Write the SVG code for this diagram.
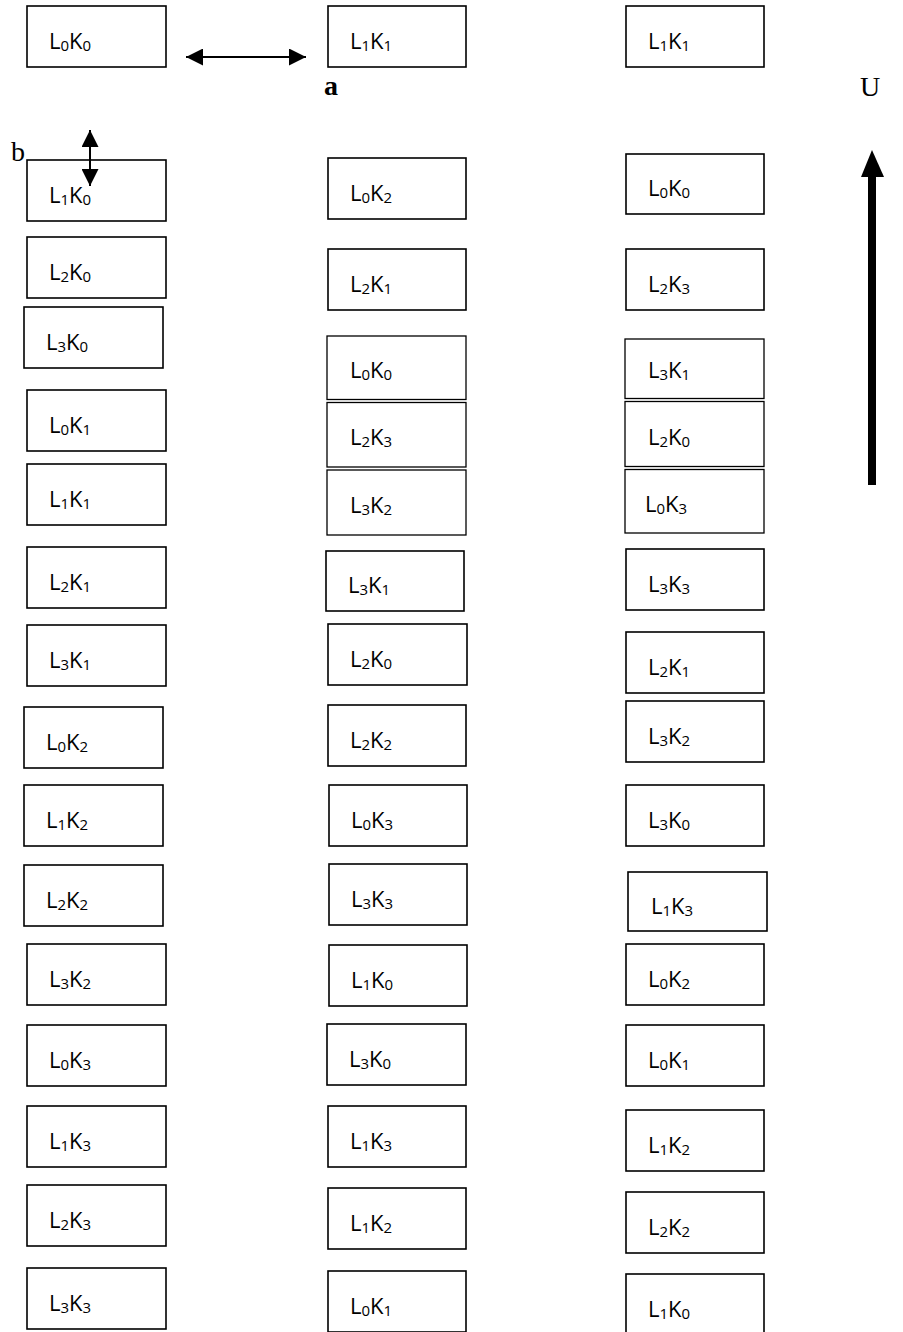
<svg xmlns="http://www.w3.org/2000/svg" width="903" height="1332" viewBox="0 0 903 1332">
<style>
  rect.b { fill: #fff; stroke: #000; stroke-width: 1.6; }
  rect.d { fill: #fff; stroke: #000; stroke-width: 1.3; }
  text.t { font-family: "Open Sans", "Noto Sans", sans-serif; font-size: 22px; fill: #000; }
  tspan.s { font-size: 15px; }
  text.lbl { font-family: "Liberation Serif", serif; font-size: 28px; fill: #000; }
  line.c { stroke: #000; stroke-width: 2; }
</style>
<defs>
  <marker id="ah" markerUnits="userSpaceOnUse" markerWidth="17" markerHeight="17" refX="16" refY="8" orient="auto-start-reverse" viewBox="0 0 16 16">
    <path d="M0,0 L16,8 L0,16 z" fill="#000"/>
  </marker>
</defs>
<rect width="903" height="1332" fill="#fff"/>

<!-- Left column -->
<g id="l1"><rect class="b" x="27" y="6" width="139" height="61"/><text class="t" x="49" y="49">L<tspan class="s" dy="2">0</tspan><tspan dy="-2">K</tspan><tspan class="s" dy="2">0</tspan></text></g>
<g id="l2"><rect class="b" x="27" y="160" width="139" height="61"/><text class="t" x="49" y="203">L<tspan class="s" dy="2">1</tspan><tspan dy="-2">K</tspan><tspan class="s" dy="2">0</tspan></text></g>
<g id="l3"><rect class="b" x="27" y="237" width="139" height="61"/><text class="t" x="49" y="280">L<tspan class="s" dy="2">2</tspan><tspan dy="-2">K</tspan><tspan class="s" dy="2">0</tspan></text></g>
<g id="l4"><rect class="b" x="24" y="307" width="139" height="61"/><text class="t" x="46" y="350">L<tspan class="s" dy="2">3</tspan><tspan dy="-2">K</tspan><tspan class="s" dy="2">0</tspan></text></g>
<g id="l5"><rect class="b" x="27" y="390" width="139" height="61"/><text class="t" x="49" y="433">L<tspan class="s" dy="2">0</tspan><tspan dy="-2">K</tspan><tspan class="s" dy="2">1</tspan></text></g>
<g id="l6"><rect class="b" x="27" y="464" width="139" height="61"/><text class="t" x="49" y="507">L<tspan class="s" dy="2">1</tspan><tspan dy="-2">K</tspan><tspan class="s" dy="2">1</tspan></text></g>
<g id="l7"><rect class="b" x="27" y="547" width="139" height="61"/><text class="t" x="49" y="590">L<tspan class="s" dy="2">2</tspan><tspan dy="-2">K</tspan><tspan class="s" dy="2">1</tspan></text></g>
<g id="l8"><rect class="b" x="27" y="625" width="139" height="61"/><text class="t" x="49" y="668">L<tspan class="s" dy="2">3</tspan><tspan dy="-2">K</tspan><tspan class="s" dy="2">1</tspan></text></g>
<g id="l9"><rect class="b" x="24" y="707" width="139" height="61"/><text class="t" x="46" y="750">L<tspan class="s" dy="2">0</tspan><tspan dy="-2">K</tspan><tspan class="s" dy="2">2</tspan></text></g>
<g id="l10"><rect class="b" x="24" y="785" width="139" height="61"/><text class="t" x="46" y="828">L<tspan class="s" dy="2">1</tspan><tspan dy="-2">K</tspan><tspan class="s" dy="2">2</tspan></text></g>
<g id="l11"><rect class="b" x="24" y="865" width="139" height="61"/><text class="t" x="46" y="908">L<tspan class="s" dy="2">2</tspan><tspan dy="-2">K</tspan><tspan class="s" dy="2">2</tspan></text></g>
<g id="l12"><rect class="b" x="27" y="944" width="139" height="61"/><text class="t" x="49" y="987">L<tspan class="s" dy="2">3</tspan><tspan dy="-2">K</tspan><tspan class="s" dy="2">2</tspan></text></g>
<g id="l13"><rect class="b" x="27" y="1025" width="139" height="61"/><text class="t" x="49" y="1068">L<tspan class="s" dy="2">0</tspan><tspan dy="-2">K</tspan><tspan class="s" dy="2">3</tspan></text></g>
<g id="l14"><rect class="b" x="27" y="1106" width="139" height="61"/><text class="t" x="49" y="1149">L<tspan class="s" dy="2">1</tspan><tspan dy="-2">K</tspan><tspan class="s" dy="2">3</tspan></text></g>
<g id="l15"><rect class="b" x="27" y="1185" width="139" height="61"/><text class="t" x="49" y="1228">L<tspan class="s" dy="2">2</tspan><tspan dy="-2">K</tspan><tspan class="s" dy="2">3</tspan></text></g>
<g id="l16"><rect class="b" x="27" y="1268" width="139" height="61"/><text class="t" x="49" y="1311">L<tspan class="s" dy="2">3</tspan><tspan dy="-2">K</tspan><tspan class="s" dy="2">3</tspan></text></g>

<!-- Middle column -->
<g id="m1"><rect class="b" x="328" y="6" width="138" height="61"/><text class="t" x="350" y="49">L<tspan class="s" dy="2">1</tspan><tspan dy="-2">K</tspan><tspan class="s" dy="2">1</tspan></text></g>
<g id="m2"><rect class="b" x="328" y="158" width="138" height="61"/><text class="t" x="350" y="201">L<tspan class="s" dy="2">0</tspan><tspan dy="-2">K</tspan><tspan class="s" dy="2">2</tspan></text></g>
<g id="m3"><rect class="b" x="328" y="249" width="138" height="61"/><text class="t" x="350" y="292">L<tspan class="s" dy="2">2</tspan><tspan dy="-2">K</tspan><tspan class="s" dy="2">1</tspan></text></g>
<g id="m4"><rect class="d" x="327" y="336" width="139" height="63.5"/><text class="t" x="350" y="378">L<tspan class="s" dy="2">0</tspan><tspan dy="-2">K</tspan><tspan class="s" dy="2">0</tspan></text></g>
<g id="m5"><rect class="d" x="327" y="402.5" width="139" height="64.5"/><text class="t" x="350" y="445">L<tspan class="s" dy="2">2</tspan><tspan dy="-2">K</tspan><tspan class="s" dy="2">3</tspan></text></g>
<g id="m6"><rect class="d" x="327" y="470" width="139" height="65"/><text class="t" x="350" y="513">L<tspan class="s" dy="2">3</tspan><tspan dy="-2">K</tspan><tspan class="s" dy="2">2</tspan></text></g>
<g id="m7"><rect class="b" x="326" y="551" width="138" height="60"/><text class="t" x="348" y="593">L<tspan class="s" dy="2">3</tspan><tspan dy="-2">K</tspan><tspan class="s" dy="2">1</tspan></text></g>
<g id="m8"><rect class="b" x="328" y="624" width="139" height="61"/><text class="t" x="350" y="667">L<tspan class="s" dy="2">2</tspan><tspan dy="-2">K</tspan><tspan class="s" dy="2">0</tspan></text></g>
<g id="m9"><rect class="b" x="328" y="705" width="138" height="61"/><text class="t" x="350" y="748">L<tspan class="s" dy="2">2</tspan><tspan dy="-2">K</tspan><tspan class="s" dy="2">2</tspan></text></g>
<g id="m10"><rect class="b" x="329" y="785" width="138" height="61"/><text class="t" x="351" y="828">L<tspan class="s" dy="2">0</tspan><tspan dy="-2">K</tspan><tspan class="s" dy="2">3</tspan></text></g>
<g id="m11"><rect class="b" x="329" y="864" width="138" height="61"/><text class="t" x="351" y="907">L<tspan class="s" dy="2">3</tspan><tspan dy="-2">K</tspan><tspan class="s" dy="2">3</tspan></text></g>
<g id="m12"><rect class="b" x="329" y="945" width="138" height="61"/><text class="t" x="351" y="988">L<tspan class="s" dy="2">1</tspan><tspan dy="-2">K</tspan><tspan class="s" dy="2">0</tspan></text></g>
<g id="m13"><rect class="b" x="327" y="1024" width="139" height="61"/><text class="t" x="349" y="1067">L<tspan class="s" dy="2">3</tspan><tspan dy="-2">K</tspan><tspan class="s" dy="2">0</tspan></text></g>
<g id="m14"><rect class="b" x="328" y="1106" width="138" height="61"/><text class="t" x="350" y="1149">L<tspan class="s" dy="2">1</tspan><tspan dy="-2">K</tspan><tspan class="s" dy="2">3</tspan></text></g>
<g id="m15"><rect class="b" x="328" y="1188" width="138" height="61"/><text class="t" x="350" y="1231">L<tspan class="s" dy="2">1</tspan><tspan dy="-2">K</tspan><tspan class="s" dy="2">2</tspan></text></g>
<g id="m16"><rect class="b" x="328" y="1271" width="138" height="61"/><text class="t" x="350" y="1314">L<tspan class="s" dy="2">0</tspan><tspan dy="-2">K</tspan><tspan class="s" dy="2">1</tspan></text></g>

<!-- Right column -->
<g id="r1"><rect class="b" x="626" y="6" width="138" height="61"/><text class="t" x="648" y="49">L<tspan class="s" dy="2">1</tspan><tspan dy="-2">K</tspan><tspan class="s" dy="2">1</tspan></text></g>
<g id="r2"><rect class="b" x="626" y="154" width="138" height="60"/><text class="t" x="648" y="196">L<tspan class="s" dy="2">0</tspan><tspan dy="-2">K</tspan><tspan class="s" dy="2">0</tspan></text></g>
<g id="r3"><rect class="b" x="626" y="249" width="138" height="61"/><text class="t" x="648" y="292">L<tspan class="s" dy="2">2</tspan><tspan dy="-2">K</tspan><tspan class="s" dy="2">3</tspan></text></g>
<g id="r4"><rect class="d" x="625" y="339" width="139" height="59.5"/><text class="t" x="648" y="378">L<tspan class="s" dy="2">3</tspan><tspan dy="-2">K</tspan><tspan class="s" dy="2">1</tspan></text></g>
<g id="r5"><rect class="d" x="625" y="401.5" width="139" height="65"/><text class="t" x="648" y="445">L<tspan class="s" dy="2">2</tspan><tspan dy="-2">K</tspan><tspan class="s" dy="2">0</tspan></text></g>
<g id="r6"><rect class="d" x="625" y="469.5" width="139" height="63.5"/><text class="t" x="645" y="512">L<tspan class="s" dy="2">0</tspan><tspan dy="-2">K</tspan><tspan class="s" dy="2">3</tspan></text></g>
<g id="r7"><rect class="b" x="626" y="549" width="138" height="61"/><text class="t" x="648" y="592">L<tspan class="s" dy="2">3</tspan><tspan dy="-2">K</tspan><tspan class="s" dy="2">3</tspan></text></g>
<g id="r8"><rect class="b" x="626" y="632" width="138" height="61"/><text class="t" x="648" y="675">L<tspan class="s" dy="2">2</tspan><tspan dy="-2">K</tspan><tspan class="s" dy="2">1</tspan></text></g>
<g id="r9"><rect class="b" x="626" y="701" width="138" height="61"/><text class="t" x="648" y="744">L<tspan class="s" dy="2">3</tspan><tspan dy="-2">K</tspan><tspan class="s" dy="2">2</tspan></text></g>
<g id="r10"><rect class="b" x="626" y="785" width="138" height="61"/><text class="t" x="648" y="828">L<tspan class="s" dy="2">3</tspan><tspan dy="-2">K</tspan><tspan class="s" dy="2">0</tspan></text></g>
<g id="r11"><rect class="b" x="628" y="872" width="139" height="59"/><text class="t" x="651" y="914">L<tspan class="s" dy="2">1</tspan><tspan dy="-2">K</tspan><tspan class="s" dy="2">3</tspan></text></g>
<g id="r12"><rect class="b" x="626" y="944" width="138" height="61"/><text class="t" x="648" y="987">L<tspan class="s" dy="2">0</tspan><tspan dy="-2">K</tspan><tspan class="s" dy="2">2</tspan></text></g>
<g id="r13"><rect class="b" x="626" y="1025" width="138" height="61"/><text class="t" x="648" y="1068">L<tspan class="s" dy="2">0</tspan><tspan dy="-2">K</tspan><tspan class="s" dy="2">1</tspan></text></g>
<g id="r14"><rect class="b" x="626" y="1110" width="138" height="61"/><text class="t" x="648" y="1153">L<tspan class="s" dy="2">1</tspan><tspan dy="-2">K</tspan><tspan class="s" dy="2">2</tspan></text></g>
<g id="r15"><rect class="b" x="626" y="1192" width="138" height="61"/><text class="t" x="648" y="1235">L<tspan class="s" dy="2">2</tspan><tspan dy="-2">K</tspan><tspan class="s" dy="2">2</tspan></text></g>
<g id="r16"><rect class="b" x="626" y="1274" width="138" height="61"/><text class="t" x="648" y="1317">L<tspan class="s" dy="2">1</tspan><tspan dy="-2">K</tspan><tspan class="s" dy="2">0</tspan></text></g>

<!-- Labels -->
<g id="labels">
  <text class="lbl" x="324" y="95" font-weight="bold">a</text>
  <text class="lbl" x="11" y="161">b</text>
  <text class="lbl" x="860" y="96">U</text>
</g>

<!-- Connectors -->
<g id="connectors">
  <line class="c" x1="186" y1="57" x2="306" y2="57" marker-start="url(#ah)" marker-end="url(#ah)"/>
  <line class="c" x1="90" y1="130" x2="90" y2="186" marker-start="url(#ah)" marker-end="url(#ah)"/>
  <rect x="868" y="174" width="8" height="311" fill="#000"/>
  <polygon points="872,150 861,177 884,177" fill="#000"/>
</g>
</svg>
